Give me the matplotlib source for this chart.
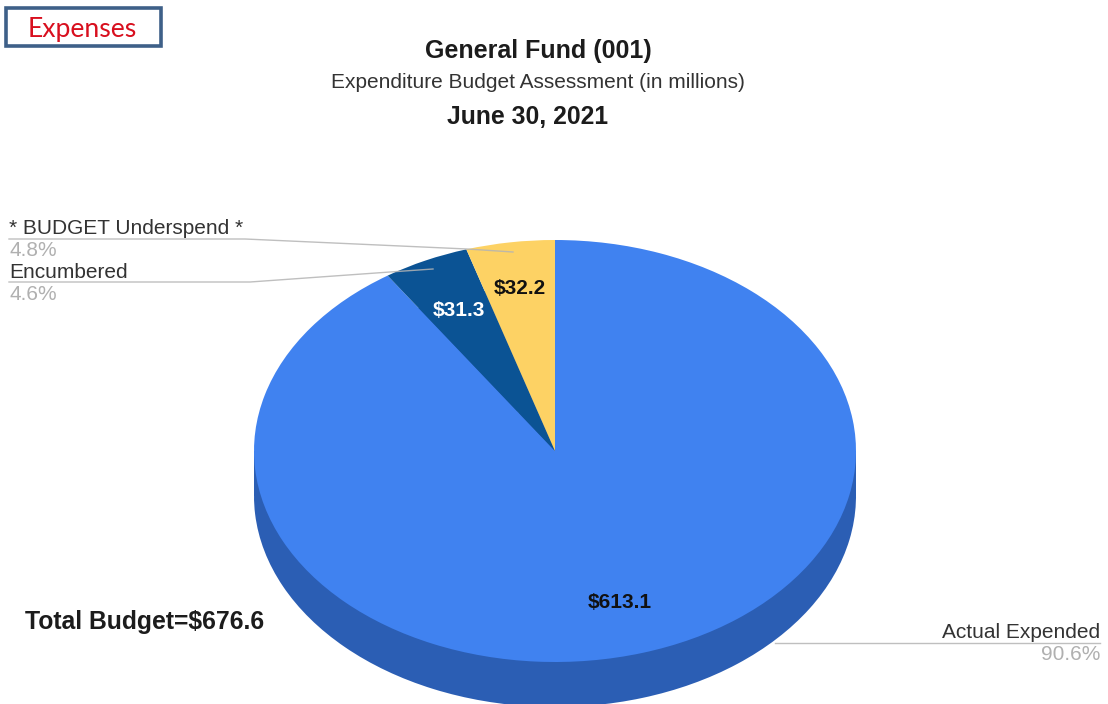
import matplotlib
matplotlib.use('Agg')
import matplotlib.pyplot as plt
from matplotlib.patches import Rectangle

plt.rcParams['font.family'] = ['Liberation Sans', 'DejaVu Sans']

# Budget figures in millions
categories = ['Actual Expended', 'Encumbered', '* BUDGET Underspend *']
amounts = [613.1, 31.3, 32.2]
amount_labels = ['$613.1', '$31.3', '$32.2']
percent_labels = ['90.6%', '4.6%', '4.8%']
total_label = 'Total Budget=$676.6'

top_colors = ['#4082f0', '#0b5394', '#fdd264']
side_colors = ['#2b5eb4', '#2b5eb4', '#2b5eb4']

W, H = 1108, 704
cx, cy = 555, 451
rx, ry = 301, 211
depth = 45

fig = plt.figure(figsize=(W / 100, H / 100), dpi=100)

# Unit-circle axes stretched so the pie comes out as an ellipse
pie_ax = fig.add_axes([0, 0, 1, 1])
pie_ax.pie(amounts, colors=side_colors, startangle=90, counterclock=False,
           center=(0, -depth / ry), radius=1, frame=True)
pie_ax.add_patch(Rectangle((-1, -depth / ry), 2, depth / ry, color=side_colors[0], lw=0))
pie_ax.pie(amounts, colors=top_colors, startangle=90, counterclock=False,
           center=(0, 0), radius=1, frame=True)
pie_ax.set_aspect('auto')
pie_ax.set_xlim(-cx / rx, (W - cx) / rx)
pie_ax.set_ylim((cy - H) / ry, cy / ry)
pie_ax.axis('off')

# Overlay in pixel coordinates for the text and leader lines
ax = fig.add_axes([0, 0, 1, 1])
ax.set_xlim(0, W)
ax.set_ylim(H, 0)
ax.axis('off')
ax.patch.set_alpha(0)

ax.add_patch(Rectangle((6, 8), 155, 38, fill=False, ec='#3e6088', lw=2.6))
ax.text(82, 29, 'Expenses', color='#d80f1e', fontsize=19.2, family='Lato',
        ha='center', va='center')

ax.text(538, 51, 'General Fund (001)', fontsize=18, fontweight='bold',
        color='#1c1c1c', ha='center', va='center')
ax.text(538, 82, 'Expenditure Budget Assessment (in millions)', fontsize=15,
        color='#333333', ha='center', va='center')
ax.text(527.5, 117, 'June 30, 2021', fontsize=17.8, fontweight='bold',
        color='#1c1c1c', ha='center', va='center')

# Leader lines
leader = dict(color='#b4b4b4', lw=1, alpha=0.85)
ax.plot([9, 245, 467, 513], [239, 239, 249, 252], **leader)
ax.plot([9, 250, 390, 433], [282, 282, 272, 269], **leader)
ax.plot([775, 1100], [643, 643], **leader)

# Category names and shares
ax.text(9, 228, categories[2], fontsize=15, color='#333333', va='center')
ax.text(9, 251, percent_labels[2], fontsize=15, color='#b0b0b0', va='center')
ax.text(9, 272, categories[1], fontsize=15, color='#333333', va='center')
ax.text(9, 295, percent_labels[1], fontsize=15, color='#b0b0b0', va='center')
ax.text(1100, 632, categories[0], fontsize=15, color='#333333', ha='right', va='center')
ax.text(1100, 655, percent_labels[0], fontsize=15, color='#b0b0b0', ha='right', va='center')

# Amounts on the slices
ax.text(620, 602, amount_labels[0], fontsize=15, fontweight='bold', color='#111111',
        ha='center', va='center')
ax.text(459, 310, amount_labels[1], fontsize=15, fontweight='bold', color='white',
        ha='center', va='center')
ax.text(520, 289, amount_labels[2], fontsize=15, fontweight='bold', color='#111111',
        ha='center', va='center')

ax.text(25, 622, total_label, fontsize=17.8, fontweight='bold', color='#1c1c1c', va='center')

fig.savefig('out.png', dpi=100)
